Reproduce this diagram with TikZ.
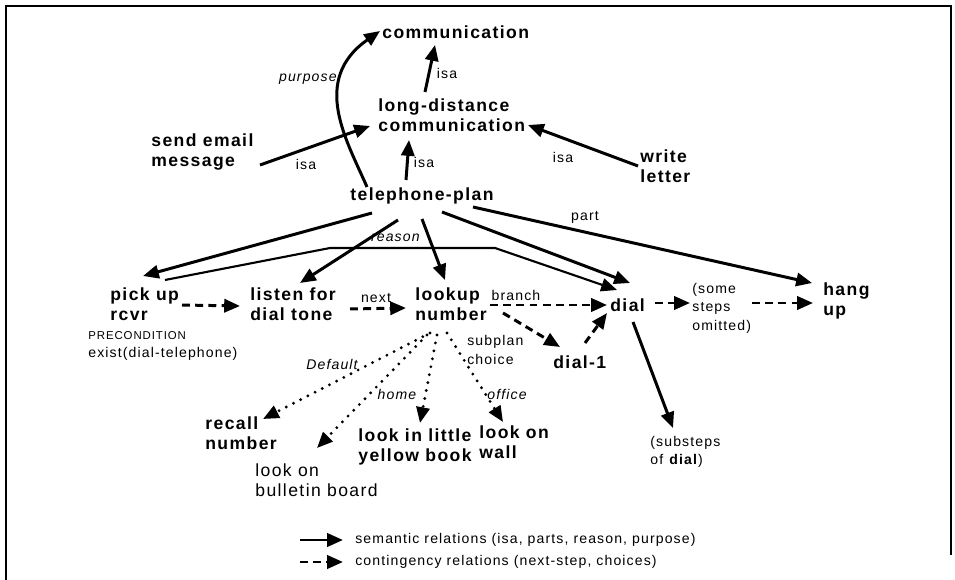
\documentclass[tikz,border=0pt]{standalone}
\usepackage{fontspec}
\setmainfont{Liberation Sans}[LetterSpace=8]
\usetikzlibrary{arrows.meta}
\begin{document}
\begin{tikzpicture}[x=0.02cm,y=-0.02cm,
  concept/.style={font=\fontsize{10}{11.5}\selectfont\bfseries,inner sep=0pt,align=left,anchor=west},
  plain/.style={font=\fontsize{10}{11.5}\selectfont,inner sep=0pt,align=left,anchor=west},
  lbl/.style={font=\fontsize{8}{10.5}\selectfont,inner sep=0pt,align=left},
  ital/.style={font=\fontsize{8}{10}\selectfont\itshape,inner sep=0pt},
  tip/.style={-{Triangle[length=9pt,width=7.5pt]}},
  sem/.style={tip,line width=1.7pt},
  cont/.style={tip,line width=1.7pt,dash pattern=on 4.5pt off 3pt},
  alt/.style={tip,line width=1.8pt,line cap=round,dash pattern=on 0pt off 4.6pt},
]
\useasboundingbox (0,0) rectangle (955,580);
% frame
\draw[line width=1.1pt] (6,580) -- (6,6) -- (951,6) -- (951,555);

% concepts
\node[concept] (comm)    at (382,32)  {communication};
\node[concept] (ldc)     at (378,115) {long-distance\\communication};
\node[concept] (email)   at (151,152) {send email\\message};
\node[concept] (tel)     at (350,196) {telephone-plan};
\node[concept] (write)   at (640,166) {write\\letter};
\node[concept] (pick)    at (110,304) {pick up\\rcvr};
\node[lbl,anchor=west] (pre) at (88,346) {{\fontsize{6.5}{8}\selectfont PRECONDITION}\\exist(dial-telephone)};
\node[concept] (listen)  at (250,304) {listen for\\dial tone};
\node[concept] (lookup)  at (415,304) {lookup\\number};
\node[concept] (dial)    at (610,305) {dial};
\node[concept] (dialone) at (553,362) {dial-1};
\node[lbl,anchor=west] (some) at (692,308) {(some\\steps\\omitted)};
\node[concept] (hang)    at (823,301) {hang\\up};
\node[concept] (recall)  at (205,433) {recall\\number};
\node[plain]   (board)   at (255,480) {look on\\bulletin board};
\node[concept] (yellow)  at (358,447) {look in little\\yellow book};
\node[concept] (wall)    at (479,442) {look on\\wall};
\node[lbl,anchor=west] (sub) at (650,452) {(substeps\\of \textbf{dial})};

% edge labels
\node[lbl] (isa1) at (447,73)  {isa};
\node[lbl] (isa2) at (424,162) {isa};
\node[lbl] (isa3) at (306,164) {isa};
\node[lbl] (isa4) at (563,157) {isa};
\node[ital,anchor=east] (purp) at (337,79) {purpose};
\node[ital,anchor=east] (reas) at (420,238) {reason};
\node[lbl] (part) at (585,217) {part};
\node[lbl] (next) at (376,298) {next};
\node[lbl] (branch) at (516,295) {branch};
\node[lbl,anchor=west] (choice) at (467,350) {subplan\\choice};
\node[ital,anchor=east] (deflt) at (358,364) {Default};
\node[ital] (home) at (397,394) {home};
\node[ital] (office) at (507,394) {office};

% semantic relations
\draw[sem] ([shift={(47,-23)}]ldc.west) -- ([shift={(53,13)}]comm.west);
\draw[sem] ([shift={(56,-16)}]tel.west) -- ([shift={(31,25)}]ldc.west);
\draw[sem] ([shift={(109,13)}]email.west) -- ([shift={(-8,11)}]ldc.west);
\draw[sem] ([shift={(-2,0)}]write.west) -- ([shift={(150,10)}]ldc.west);
\draw[sem] ([shift={(17,-9)}]tel.west) .. controls (347,141) and (310,80) .. ([shift={(-2,-1)}]comm.west);
\draw[tip,line width=1.2pt] ([shift={(55,-24)}]pick.west) -- (330,248) -- (495,248) -- ([shift={(7,-15)}]dial.west);
\draw[sem] ([shift={(22,17)}]tel.west) -- ([shift={(33,-28)}]pick.west);
\draw[sem] ([shift={(48,24)}]tel.west) -- ([shift={(50,-21)}]listen.west);
\draw[sem] ([shift={(72,23)}]tel.west) -- ([shift={(30,-24)}]lookup.west);
\draw[sem] ([shift={(92,16)}]tel.west) -- ([shift={(20,-22)}]dial.west);
\draw[sem] ([shift={(123,11)}]tel.west) -- ([shift={(-11,-18)}]hang.west);
\draw[sem] ([shift={(23,17)}]dial.west) -- ([shift={(23,-24)}]sub.west);

% contingency relations
\draw[cont] ([shift={(72,1)}]pick.west) -- ([shift={(-10,2)}]listen.west);
\draw[cont] ([shift={(100,5)}]listen.west) -- ([shift={(-9,4)}]lookup.west);
\draw[cont] ([shift={(75,1)}]lookup.west) -- ([shift={(-3,0)}]dial.west);
\draw[cont] ([shift={(88,9)}]lookup.west) -- ([shift={(7,-15)}]dialone.west);
\draw[cont] ([shift={(32,-19)}]dialone.west) -- ([shift={(-3,8)}]dial.west);
\draw[cont] ([shift={(45,-2)}]dial.west) -- ([shift={(-2,-5)}]some.west);
\draw[cont] ([shift={(60,-5)}]some.west) -- ([shift={(-10,2)}]hang.west);

% subplan choices
\draw[alt] ([shift={(15,29)}]lookup.west) -- ([shift={(58,-14)}]recall.west);
\draw[alt] ([shift={(12,31)}]lookup.west) -- ([shift={(62,-32)}]board.west);
\draw[alt] ([shift={(22,31)}]lookup.west) -- ([shift={(62,-24)}]yellow.west);
\draw[alt] ([shift={(32,29)}]lookup.west) -- ([shift={(24,-20)}]wall.west);

% legend
\coordinate (lsem) at (300,540);
\coordinate (lcont) at (300,562);
\node[lbl,anchor=west] (legsem) at (355,540) {semantic relations (isa, parts, reason, purpose)};
\node[lbl,anchor=west] (legcont) at (355,562) {contingency relations (next-step, choices)};
\draw[sem] (lsem) -- ([shift={(-12,0)}]legsem.west);
\draw[cont] (lcont) -- ([shift={(-12,0)}]legcont.west);
\end{tikzpicture}
\end{document}
